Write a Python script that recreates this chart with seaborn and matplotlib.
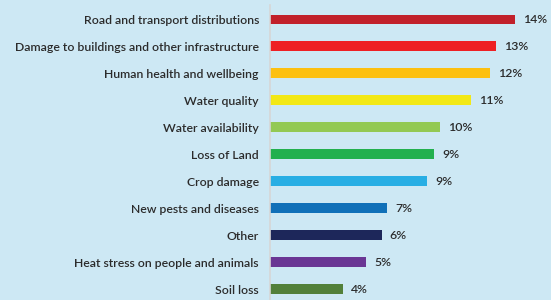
import matplotlib
matplotlib.use("Agg")
import matplotlib.pyplot as plt
import seaborn as sns
import pandas as pd

categories = [
    "Road and transport distributions",
    "Damage to buildings and other infrastructure",
    "Human health and wellbeing",
    "Water quality",
    "Water availability",
    "Loss of Land",
    "Crop damage",
    "New pests and diseases",
    "Other",
    "Heat stress on people and animals",
    "Soil loss",
]
# bar lengths (percent)
values = [14.0, 12.9, 12.6, 11.5, 9.7, 9.4, 9.0, 6.7, 6.4, 5.5, 4.2]
value_labels = ["14%", "13%", "12%", "11%", "10%", "9%", "9%", "7%", "6%", "5%", "4%"]
colors = ["#c1202a", "#ee2024", "#fcc010", "#f2e816", "#93c953", "#22b04e",
          "#28aee4", "#1070b8", "#1d275a", "#6a3694", "#52803a"]

bg = "#cde8f4"
text_color = "#2b2b2b"

sns.set_theme(style="white")
plt.rcParams["font.family"] = ["Lato", "DejaVu Sans"]

df = pd.DataFrame({"Impact": categories, "Share": values})

fig = plt.figure(figsize=(5.51, 3.0), dpi=100, facecolor=bg)
ax = fig.add_axes([0.49, 0.0, 0.51, 295 / 300])
ax.set_facecolor(bg)

sns.barplot(data=df, x="Share", y="Impact", hue="Impact", palette=colors,
            legend=False, width=0.37, ax=ax, saturation=1, linewidth=0)

for i, (v, lab) in enumerate(zip(values, value_labels)):
    ax.text(v + 0.45, i, lab, va="center", ha="left", fontsize=8.8,
            fontweight="semibold", color=text_color)

ax.set_xlim(0, 281 / 17.5)
ax.set_ylim(10.408, -0.538)
ax.set_xlabel("")
ax.set_ylabel("")
ax.set_xticks([])
ax.tick_params(axis="y", length=0, pad=8, labelsize=8.8, labelcolor=text_color)
for t in ax.get_yticklabels():
    t.set_fontweight("semibold")

for s in ["top", "right", "bottom"]:
    ax.spines[s].set_visible(False)
ax.spines["left"].set_color("#d6d6d6")
ax.spines["left"].set_linewidth(1.2)

fig.savefig("out.png", dpi=100, facecolor=bg)
